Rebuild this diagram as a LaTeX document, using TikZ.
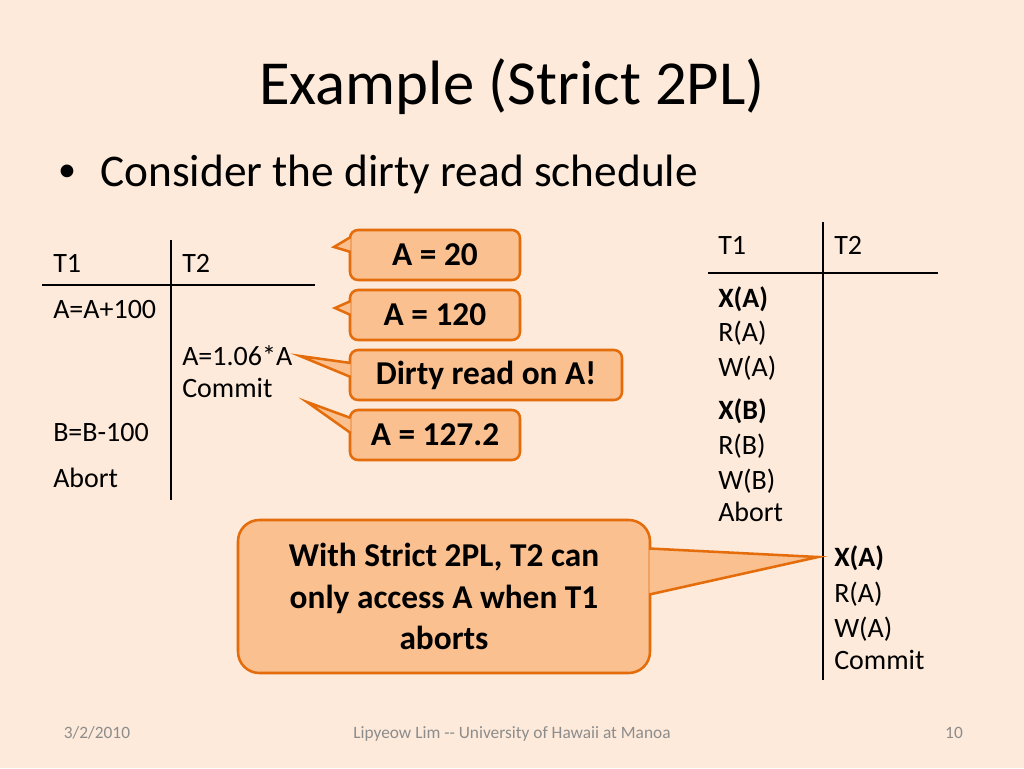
\documentclass[tikz,border=0pt]{standalone}
\usepackage{fontspec}
\setmainfont{Carlito}
\usetikzlibrary{calc}
\definecolor{slidebg}{HTML}{FDEADA}
\definecolor{calfill}{HTML}{FAC090}
\definecolor{calline}{HTML}{E46C0A}
\definecolor{footgray}{HTML}{8C8C8C}
\tikzset{
  cell/.style={anchor=base west,inner sep=0pt,font=\fontsize{21}{24}\selectfont},
  callbox/.style={draw=calline,fill=calfill,line width=1.9pt,rounded corners=6pt,
    inner sep=0pt,align=center,font=\fontsize{25}{31}\selectfont\bfseries},
  pointer/.style={draw=calline,fill=calfill,line width=1.9pt,line join=miter},
  tabline/.style={line width=1.1pt},
  foot/.style={inner sep=0pt,anchor=base,font=\fontsize{13}{15}\selectfont,text=footgray},
}
\begin{document}
\begin{tikzpicture}[x=0.75pt,y=-0.75pt]
    \fill[slidebg] (0,0) rectangle (1024,768);
    \useasboundingbox (0,0) rectangle (1024,768);
    % title and bullet
    \node[inner sep=0pt,anchor=base,font=\fontsize{47}{56}\selectfont] (title) at (512,104) {Example (Strict 2PL)};
    \node[inner sep=0pt,anchor=base west,font=\fontsize{34}{40}\selectfont] (bullet) at (100,186) {Consider the dirty read schedule};
    \node[inner sep=0pt,font=\fontsize{27}{32}\selectfont] (dot) at (67,173) {•};
    % left schedule
    \draw[tabline] (42,285) -- (315,285);
    \draw[tabline] (171,240) -- (171,500);
    \node[cell] (lt1) at (53,272) {T1};
    \node[cell] (lt2) at (182,272) {T2};
    \node[cell] (la1) at (53,318) {A=A+100};
    \node[cell] (la2) at (182,365) {A=1.06*A};
    \node[cell] (lc2) at (182,397) {Commit};
    \node[cell] (lb1) at (53,441) {B=B-100};
    \node[cell] (lab1) at (53,487) {Abort};
    % right schedule
    \draw[tabline] (708,273) -- (938,273);
    \draw[tabline] (823,222) -- (823,680);
    \node[cell] (rt1) at (718,254) {T1};
    \node[cell] (rt2) at (834,254) {T2};
    \node[cell] (rxa1) at (718,307) {\textbf{X(A)}};
    \node[cell] (rra1) at (718,341) {R(A)};
    \node[cell] (rwa1) at (718,376) {W(A)};
    \node[cell] (rxb1) at (718,419) {\textbf{X(B)}};
    \node[cell] (rrb1) at (718,454) {R(B)};
    \node[cell] (rwb1) at (718,489) {W(B)};
    \node[cell] (rab1) at (718,521) {Abort};
    \node[cell] (rxa2) at (834,566) {\textbf{X(A)}};
    \node[cell] (rra2) at (834,602) {R(A)};
    \node[cell] (rwa2) at (834,637) {W(A)};
    \node[cell] (rc2) at (834,669) {Commit};
    % callouts
    \coordinate (tip20) at (334,247);
    \coordinate (tip120) at (335,308);
    \coordinate (tipdirty) at (300,356);
    \coordinate (tip127) at (307,402);
    \coordinate (tipbig) at (818,557);
    \node[callbox,minimum width=127.5pt,minimum height=37.5pt] (c20) at (435,255) {A = 20};
    \draw[pointer] ($(c20.west)+(2,-18)$) -- (tip20) -- ($(c20.west)+(2,-3)$);
    \node[callbox,minimum width=127.5pt,minimum height=37.5pt] (c120) at (435,315) {A = 120};
    \draw[pointer] ($(c120.west)+(2,-14)$) -- (tip120) -- ($(c120.west)+(2,0)$);
    \node[callbox,minimum width=204pt,minimum height=37.5pt] (cdirty) at (486,375) {Dirty read on A!};
    \draw[pointer] ($(cdirty.west)+(2,-12)$) -- (tipdirty) -- ($(cdirty.west)+(2,2)$);
    \node[callbox,minimum width=127.5pt,minimum height=37.5pt] (c127) at (435,435) {A = 127.2};
    \draw[pointer] ($(c127.west)+(2,-17)$) -- (tip127) -- ($(c127.west)+(2,-2)$);
    \node[callbox,rounded corners=16pt,minimum width=309pt,minimum height=114.75pt] (cbig) at (444,596.5)
        {With Strict 2PL, T2 can\\only access A when T1\\aborts};
    \draw[pointer] ($(cbig.east)+(-2,-48)$) -- (tipbig) -- ($(cbig.east)+(-2,-2)$);
    % footer
    \node[foot] (fdate) at (97,738) {3/2/2010};
    \node[foot] (fname) at (512,738) {Lipyeow Lim -{}- University of Hawaii at Manoa};
    \node[foot] (fpage) at (954,738) {10};
\end{tikzpicture}
\end{document}
